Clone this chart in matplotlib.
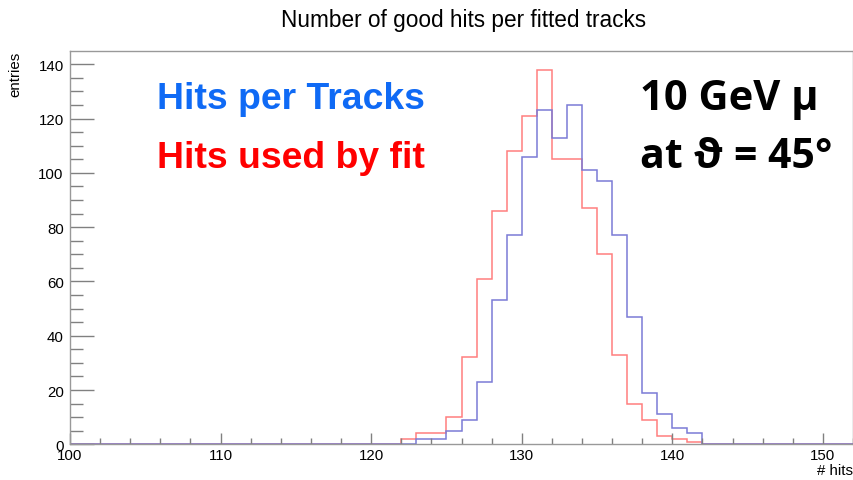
import matplotlib
matplotlib.use("Agg")
import matplotlib.pyplot as plt
from matplotlib.ticker import MultipleLocator
import numpy as np

plt.rcParams["font.family"] = ["Liberation Sans", "DejaVu Sans"]

title = "Number of good hits per fitted tracks"
x_label = "# hits"
y_label = "entries"
x_min, x_max = 100, 152

# hits per track (blue), first bin starts at 123
tracks_first = 123
tracks_counts = [2, 2, 5, 9, 23, 53, 77, 106, 123, 113, 125, 101, 97, 77, 47, 19, 11, 6, 4]

# hits used by the fit (red), first bin starts at 122
fit_first = 122
fit_counts = [2, 4, 4, 10, 32, 61, 86, 108, 121, 138, 105, 105, 87, 70, 33, 15, 9, 3, 2, 1]

label_tracks = "Hits per Tracks"
label_fit = "Hits used by fit"
note_lines = ["10 GeV \u03bc", "at \u03d1 = 45\u00b0"]

edges = np.arange(x_min, x_max + 1)


def fill_bins(first, counts):
    vals = np.zeros(len(edges) - 1)
    i0 = first - x_min
    vals[i0:i0 + len(counts)] = counts
    return vals


fig = plt.figure(figsize=(8.54, 4.81), dpi=100)
ax = fig.add_axes([70 / 854, 1 - 445.3 / 481, 783 / 854, 393.3 / 481])

ax.stairs(fill_bins(fit_first, fit_counts), edges, color="#ff7f7f", lw=1.1)
ax.stairs(fill_bins(tracks_first, tracks_counts), edges, color="#7b7bd6", lw=1.1)

ax.set_xlim(x_min, x_max)
ax.set_ylim(0, max(fit_counts) * 1.05)

ax.xaxis.set_major_locator(MultipleLocator(10))
ax.xaxis.set_minor_locator(MultipleLocator(2))
ax.yaxis.set_major_locator(MultipleLocator(20))
ax.yaxis.set_minor_locator(MultipleLocator(5))

ax.tick_params(axis="x", which="major", direction="in", length=8, width=1,
               color="#808080", labelsize=10.8, pad=3)
ax.tick_params(axis="x", which="minor", direction="in", length=4.5, width=1,
               color="#808080")
ax.tick_params(axis="y", which="major", direction="in", length=17, width=1,
               color="#808080", labelsize=10.8, pad=4.5)
ax.tick_params(axis="y", which="minor", direction="in", length=9, width=1,
               color="#808080")

for sp in ax.spines.values():
    sp.set_color("#999999")
    sp.set_linewidth(1)

fig.text(464 / 854, 1 - 27 / 481, title, ha="center", va="baseline", fontsize=16.3)
fig.text(15 / 854, 1 - 52 / 481, y_label, rotation=90, ha="center", va="top",
         fontsize=10.8)
fig.text(853 / 854, 1 - 471 / 481, x_label, ha="right", va="center", fontsize=10.8)

ax.text(0.111, 0.878, label_tracks, transform=ax.transAxes, color="#0f6af5",
        fontsize=26.9, fontweight="bold", ha="left", va="center")
ax.text(0.111, 0.730, label_fit, transform=ax.transAxes, color="#ff0000",
        fontsize=26.9, fontweight="bold", ha="left", va="center")

ax.text(0.728, 0.878, note_lines[0], transform=ax.transAxes, color="black",
        fontsize=30, fontweight="bold", ha="left", va="center",
        family=["Open Sans", "DejaVu Sans"])
ax.text(0.728, 0.732, note_lines[1], transform=ax.transAxes, color="black",
        fontsize=29.5, fontweight="bold", ha="left", va="center",
        family=["Open Sans", "DejaVu Sans"])

fig.savefig("out.png", dpi=100)
